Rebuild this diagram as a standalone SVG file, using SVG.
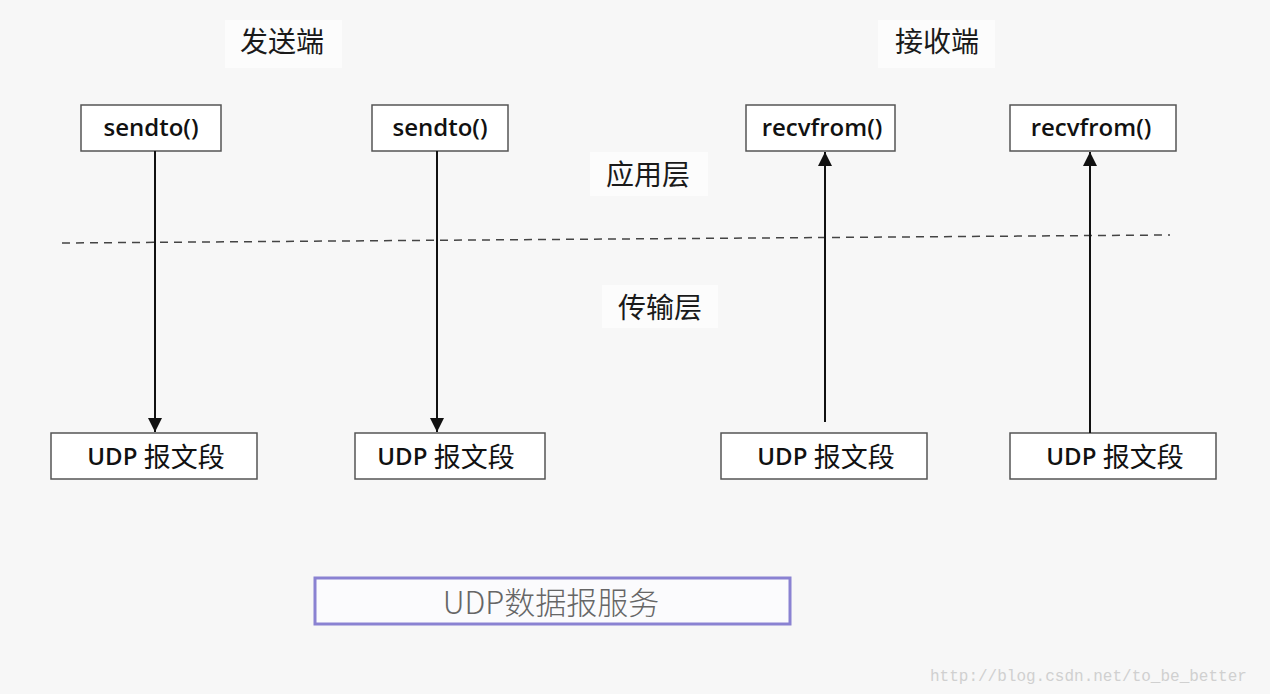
<svg xmlns="http://www.w3.org/2000/svg" width="1270" height="694" viewBox="0 0 1270 694">
<defs>
<style>
.bg{fill:#f7f7f7}
.lblbg{fill:#fcfcfc}
.box{fill:#ffffff;stroke:#555;stroke-width:1.5}
.t{font-family:"Open Sans","Noto Sans CJK SC",sans-serif;font-size:24px;font-weight:600;fill:#111;text-anchor:middle;dominant-baseline:central}
.z{font-family:"Noto Sans CJK SC",sans-serif;font-size:27px;font-weight:400}
.cn{font-family:"Noto Sans CJK SC",sans-serif;font-size:28px;fill:#1a1a1a;text-anchor:middle;dominant-baseline:central}
.conn{stroke:#111;stroke-width:2;fill:none}
</style>
<marker id="ah2" viewBox="0 0 14 14" refX="14" refY="7" markerWidth="14" markerHeight="14" markerUnits="userSpaceOnUse" orient="auto">
<path d="M0,0 L14,7 L0,14 Z" fill="#111"/>
</marker>
</defs>
<rect class="bg" x="0" y="0" width="1270" height="694"/>

<g id="label-sender">
<rect class="lblbg" x="225" y="20" width="117" height="48"/>
<text class="cn" x="282" y="40">发送端</text>
</g>
<g id="label-receiver">
<rect class="lblbg" x="878" y="20" width="117" height="48"/>
<text class="cn" x="937" y="40">接收端</text>
</g>
<g id="label-app">
<rect class="lblbg" x="590" y="152" width="118" height="44"/>
<text class="cn" x="648" y="173">应用层</text>
</g>
<g id="label-transport">
<rect class="lblbg" x="602" y="285" width="116" height="43"/>
<text class="cn" x="660" y="306">传输层</text>
</g>

<g id="divider">
<line x1="62" y1="243" x2="1170" y2="235" stroke="#444" stroke-width="1.5" stroke-dasharray="8,6"/>
</g>

<g id="sendto1">
<rect class="box" x="81" y="105" width="140" height="46"/>
<text class="t" x="151" y="126">sendto()</text>
</g>
<g id="sendto2">
<rect class="box" x="372" y="105" width="136" height="46"/>
<text class="t" x="440" y="126">sendto()</text>
</g>
<g id="recvfrom1">
<rect class="box" x="746" y="105" width="149" height="46"/>
<text class="t" x="822" y="126">recvfrom()</text>
</g>
<g id="recvfrom2">
<rect class="box" x="1010" y="105" width="166" height="46"/>
<text class="t" x="1091" y="126">recvfrom()</text>
</g>

<g id="udp1">
<rect class="box" x="51" y="433" width="206" height="46"/>
<text class="t" x="156" y="455">UDP <tspan class="z">报文段</tspan></text>
</g>
<g id="udp2">
<rect class="box" x="355" y="433" width="190" height="46"/>
<text class="t" x="446" y="455">UDP <tspan class="z">报文段</tspan></text>
</g>
<g id="udp3">
<rect class="box" x="721" y="433" width="206" height="46"/>
<text class="t" x="826" y="455">UDP <tspan class="z">报文段</tspan></text>
</g>
<g id="udp4">
<rect class="box" x="1010" y="433" width="206" height="46"/>
<text class="t" x="1115" y="455">UDP <tspan class="z">报文段</tspan></text>
</g>

<g id="connectors">
<line class="conn" x1="155" y1="151" x2="155" y2="432" marker-end="url(#ah2)"/>
<line class="conn" x1="437" y1="151" x2="437" y2="432" marker-end="url(#ah2)"/>
<line class="conn" x1="825" y1="422" x2="825" y2="152" marker-end="url(#ah2)"/>
<line class="conn" x1="1090" y1="433" x2="1090" y2="152" marker-end="url(#ah2)"/>
</g>

<g id="udp-service">
<rect x="315" y="578" width="475" height="46" fill="#fbfbfd" stroke="#8a82d2" stroke-width="3"/>
<text x="551" y="600" font-family="'Noto Sans CJK SC',sans-serif" font-size="31" font-weight="300" fill="#666" text-anchor="middle" dominant-baseline="central">UDP数据报服务</text>
</g>

<text x="930" y="681" font-family="'Liberation Mono',monospace" font-size="16" fill="#d0d0d0">http://blog.csdn.net/to_be_better</text>
</svg>
